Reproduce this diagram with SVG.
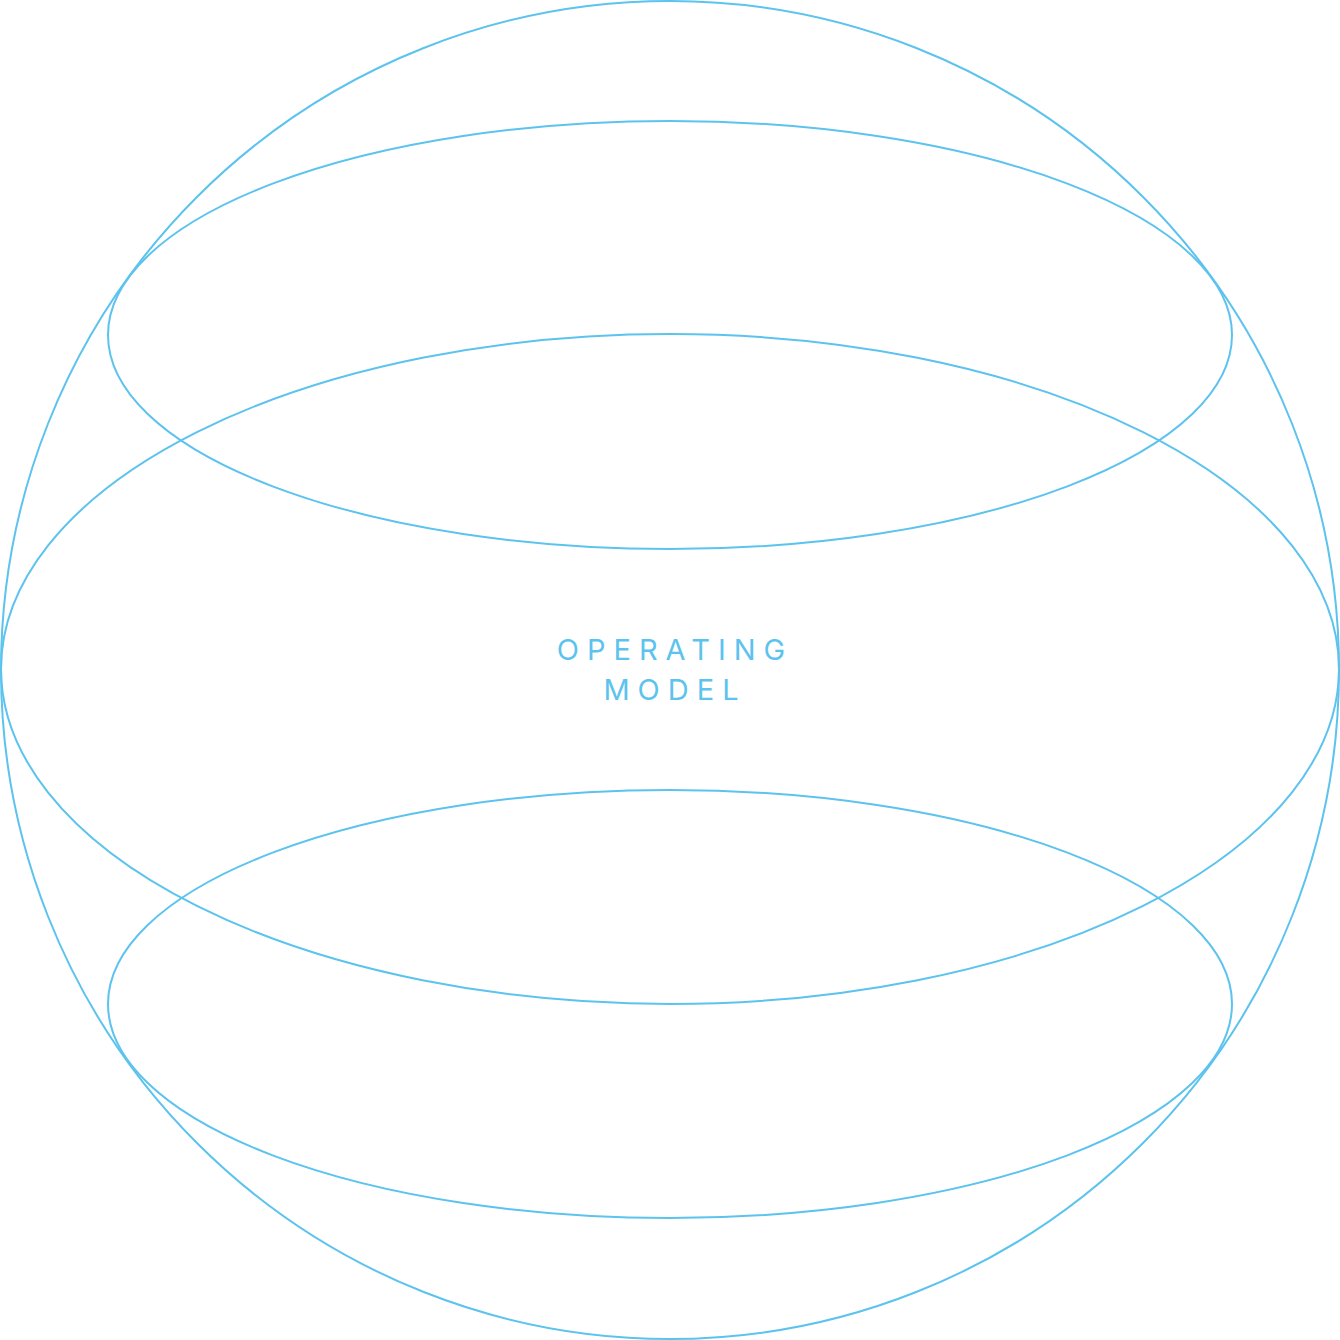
<svg xmlns="http://www.w3.org/2000/svg" width="1340" height="1340" viewBox="0 0 1340 1340">
<style>
.s{fill:none;stroke:#5cc3ee;stroke-width:2}
.t{font-family:Inter,"Liberation Sans",sans-serif;font-size:29px;fill:#5cc3ee;letter-spacing:8px;text-anchor:middle}
</style>
<rect width="1340" height="1340" fill="#fff"/>
<g id="sphere"><circle class="s" cx="670" cy="670" r="669"/></g>
<g id="top"><ellipse class="s" cx="670" cy="335" rx="562" ry="214"/></g>
<g id="middle"><ellipse class="s" cx="670" cy="669" rx="669" ry="335"/></g>
<g id="bottom"><ellipse class="s" cx="670" cy="1004" rx="562" ry="214"/></g>
<g id="label">
<text class="t" x="675" y="660">OPERATING</text>
<text class="t" x="675" y="700">MODEL</text>
</g>
</svg>
